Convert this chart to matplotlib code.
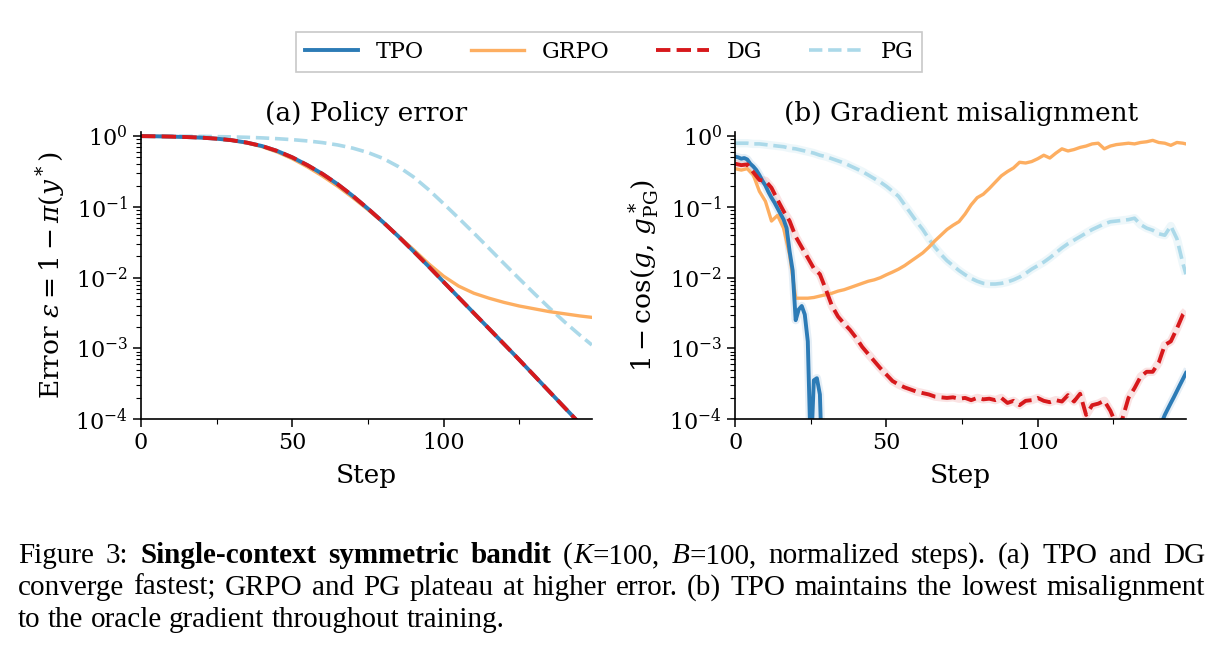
import numpy as np
import matplotlib
matplotlib.use('Agg')
import matplotlib.pyplot as plt
from matplotlib.lines import Line2D
from matplotlib.ticker import MultipleLocator

# ---- data ----
steps_a = [0, 5, 10, 15, 20, 25, 30, 35, 40, 45, 50, 55, 60, 65, 70, 75, 80, 85, 90, 95,
           100, 105, 110, 115, 120, 125, 130, 135, 140, 145, 149]

tpo_a = [1.0, 0.993, 0.984, 0.970, 0.951, 0.920, 0.875, 0.809, 0.724, 0.617,
         0.501, 0.389, 0.292, 0.209, 0.143, 0.0944, 0.0610, 0.0385, 0.0237, 0.0145,
         8.71e-3, 5.25e-3, 3.16e-3, 1.91e-3, 1.15e-3, 6.92e-4, 4.12e-4, 2.45e-4, 1.46e-4, 8.71e-5,
         5.75e-5]
dg_a = [1.0, 0.993, 0.984, 0.970, 0.951, 0.920, 0.875, 0.809, 0.724, 0.617,
        0.501, 0.389, 0.292, 0.209, 0.143, 0.0944, 0.0610, 0.0385, 0.0237, 0.0145,
        8.71e-3, 5.25e-3, 3.16e-3, 1.91e-3, 1.15e-3, 6.92e-4, 4.12e-4, 2.45e-4, 1.46e-4, 8.71e-5,
        5.75e-5]
grpo_a = [1.0, 0.993, 0.984, 0.970, 0.951, 0.918, 0.871, 0.800, 0.708, 0.596,
          0.479, 0.367, 0.272, 0.195, 0.135, 0.0912, 0.0603, 0.0389, 0.0251, 0.0158,
          0.0105, 7.59e-3, 6.03e-3, 5.13e-3, 4.47e-3, 3.98e-3, 3.63e-3, 3.31e-3, 3.09e-3, 2.88e-3,
          2.75e-3]
pg_a = [1.0, 1.0, 0.998, 0.995, 0.991, 0.984, 0.975, 0.962, 0.944, 0.920,
        0.891, 0.855, 0.809, 0.750, 0.676, 0.586, 0.484, 0.372, 0.266, 0.176,
        0.111, 0.0692, 0.0427, 0.0260, 0.0158, 9.66e-3, 5.96e-3, 3.72e-3, 2.37e-3, 1.55e-3,
        1.12e-3]

steps_b = list(range(0, 150, 2)) + [149]

grpo_b = [0.347, 0.331, 0.347, 0.282, 0.166, 0.120, 0.0631, 0.0759, 0.0501, 0.0209,
          5.13e-3, 5.13e-3, 5.13e-3, 5.25e-3, 5.50e-3, 5.75e-3, 6.03e-3, 6.46e-3, 6.76e-3, 7.24e-3,
          7.76e-3, 8.32e-3, 8.91e-3, 9.33e-3, 0.0100, 0.0110, 0.0120, 0.0132, 0.0148, 0.0170,
          0.0195, 0.0224, 0.0269, 0.0331, 0.0398, 0.0479, 0.0550, 0.0620, 0.0794, 0.107,
          0.135, 0.151, 0.182, 0.224, 0.275, 0.316, 0.355, 0.427, 0.417, 0.437,
          0.479, 0.537, 0.490, 0.575, 0.661, 0.617, 0.646, 0.692, 0.724, 0.776,
          0.794, 0.661, 0.724, 0.759, 0.776, 0.794, 0.776, 0.813, 0.832, 0.871,
          0.813, 0.794, 0.741, 0.813, 0.794, 0.776]
dg_b = [0.407, 0.389, 0.398, 0.309, 0.240, 0.234, 0.186, 0.126, 0.0871, 0.0631,
        0.0380, 0.0269, 0.0191, 0.0135, 0.0112, 6.76e-3, 3.98e-3, 2.82e-3, 2.24e-3, 1.82e-3,
        1.41e-3, 1.05e-3, 8.32e-4, 6.61e-4, 5.25e-4, 4.27e-4, 3.47e-4, 3.09e-4, 2.82e-4, 2.63e-4,
        2.45e-4, 2.34e-4, 2.24e-4, 2.09e-4, 2.04e-4, 2.00e-4, 2.04e-4, 1.95e-4, 2.00e-4, 1.86e-4,
        2.00e-4, 1.91e-4, 1.95e-4, 1.86e-4, 2.00e-4, 1.70e-4, 1.82e-4, 1.58e-4, 1.82e-4, 1.86e-4,
        2.00e-4, 1.82e-4, 1.74e-4, 1.86e-4, 1.78e-4, 2.19e-4, 1.78e-4, 2.29e-4, 1.15e-4, 1.58e-4,
        1.66e-4, 1.82e-4, 1.32e-4, 8.32e-5, 1.02e-4, 2.00e-4, 2.75e-4, 3.98e-4, 4.68e-4, 4.68e-4,
        6.31e-4, 1.12e-3, 1.26e-3, 1.91e-3, 3.02e-3, 3.39e-3]
pg_b = [0.794, 0.794, 0.794, 0.776, 0.776, 0.759, 0.741, 0.724, 0.708, 0.676,
        0.661, 0.631, 0.603, 0.575, 0.537, 0.513, 0.479, 0.447, 0.417, 0.380,
        0.347, 0.316, 0.282, 0.251, 0.224, 0.195, 0.166, 0.141, 0.107, 0.0813,
        0.0617, 0.0479, 0.0355, 0.0269, 0.0214, 0.0174, 0.0148, 0.0126, 0.0110, 9.77e-3,
        8.91e-3, 8.32e-3, 8.13e-3, 8.13e-3, 8.32e-3, 8.71e-3, 9.33e-3, 0.0102, 0.0115, 0.0132,
        0.0148, 0.0166, 0.0191, 0.0224, 0.0263, 0.0302, 0.0339, 0.0380, 0.0427, 0.0479,
        0.0525, 0.0575, 0.0617, 0.0631, 0.0646, 0.0661, 0.0692, 0.0562, 0.0501, 0.0468,
        0.0417, 0.0398, 0.0537, 0.0355, 0.0158, 0.0112]

tpo_b_steps = list(range(0, 30)) + list(range(140, 150))
tpo_b = [0.513, 0.501, 0.479, 0.490, 0.468, 0.407, 0.372, 0.331, 0.282, 0.234,
         0.200, 0.162, 0.135, 0.115, 0.0955, 0.0794, 0.0661, 0.0501, 0.0234, 0.0126,
         2.51e-3, 3.55e-3, 3.98e-3, 3.02e-3, 1.26e-3, 3e-5, 3.55e-4, 3.80e-4, 2.24e-4, 1e-5,
         1e-5, 9e-5, 1.15e-4, 1.4e-4, 1.7e-4, 2.05e-4, 2.5e-4, 3.05e-4, 3.7e-4, 4.5e-4]

c_tpo = '#2c7bb6'
c_grpo = '#fdae61'
c_dg = '#d7191c'
c_pg = '#abd9e9'

plt.rcParams['font.family'] = 'DejaVu Serif'
plt.rcParams['mathtext.fontset'] = 'dejavuserif'

fig, (ax1, ax2) = plt.subplots(1, 2, figsize=(12.18, 6.52), dpi=100)
fig.subplots_adjust(left=0.1158, right=0.9737, bottom=0.357, top=0.797, wspace=0.318)

# (a) policy error
ax1.plot(steps_a, pg_a, color=c_pg, lw=2.6, ls='--')
ax1.plot(steps_a, grpo_a, color=c_grpo, lw=2.4)
ax1.plot(steps_a, tpo_a, color=c_tpo, lw=2.8)
ax1.plot(steps_a, dg_a, color=c_dg, lw=2.8, ls='--')
ax1.set_title('(a) Policy error', fontsize=19, pad=8)
ax1.set_ylabel(r'Error $\varepsilon = 1 - \pi(y^*)$', fontsize=19, labelpad=6)

# (b) gradient misalignment, faint wide underlay stands in for the spread band
ax2.plot(steps_b, pg_b, color=c_pg, lw=6, alpha=0.2, solid_capstyle='butt')
ax2.plot(steps_b, dg_b, color=c_dg, lw=6, alpha=0.12, solid_capstyle='butt')
ax2.plot(tpo_b_steps, tpo_b, color=c_tpo, lw=6, alpha=0.12)
ax2.plot(steps_b, pg_b, color=c_pg, lw=2.6, ls='--')
ax2.plot(steps_b, grpo_b, color=c_grpo, lw=2.4)
ax2.plot(tpo_b_steps, tpo_b, color=c_tpo, lw=2.8)
ax2.plot(steps_b, dg_b, color=c_dg, lw=2.8, ls='--')
ax2.set_title('(b) Gradient misalignment', fontsize=19, pad=8)
ax2.set_ylabel(r'$1 - \cos(g,\, g^*_{\mathrm{PG}})$', fontsize=19, labelpad=6)

for ax in (ax1, ax2):
    ax.set_yscale('log')
    ax.set_ylim(1e-4, 1.13)
    ax.set_xlim(0, 149)
    ax.set_xticks([0, 50, 100])
    ax.xaxis.set_minor_locator(MultipleLocator(25))
    ax.set_xlabel('Step', fontsize=19, labelpad=6)
    ax.spines['top'].set_visible(False)
    ax.spines['right'].set_visible(False)
    ax.spines['left'].set_linewidth(1.2)
    ax.spines['bottom'].set_linewidth(1.2)
    ax.tick_params(which='major', labelsize=16, length=6, width=1.1)
    ax.tick_params(which='minor', length=3.5, width=0.8)

handles = [Line2D([], [], color=c_tpo, lw=2.8),
           Line2D([], [], color=c_grpo, lw=2.4),
           Line2D([], [], color=c_dg, lw=2.8, ls='--'),
           Line2D([], [], color=c_pg, lw=2.6, ls='--')]
leg = fig.legend(handles, ['TPO', 'GRPO', 'DG', 'PG'], loc='upper center',
                 bbox_to_anchor=(0.5, 0.968), ncol=4, fontsize=16, frameon=True,
                 fancybox=False, edgecolor='#bbbbbb', handlelength=2.4,
                 columnspacing=2.1, borderpad=0.4)
leg.get_frame().set_linewidth(1.2)

# caption, placed word by word so lines 1-2 are justified like the paper
fig.canvas.draw()
renderer = fig.canvas.get_renderer()
cap_font = 'Liberation Serif'
cap_size = 21
left_px, right_px = 18, 1205


def run_width(s, kw):
    t = fig.text(0, 0, s, family=cap_font, fontsize=cap_size, **kw)
    w = t.get_window_extent(renderer).width
    t.remove()
    return w


def put_line(y_px, words, justify=True):
    widths = [sum(run_width(s, kw) for s, kw in w) for w in words]
    space = run_width('a a', {}) - run_width('aa', {})
    if justify:
        gap = (right_px - left_px - sum(widths)) / (len(words) - 1)
    else:
        gap = space
    x = left_px
    y = 1 - y_px / 652
    for w in words:
        for s, kw in w:
            t = fig.text(x / 1218, y, s, family=cap_font, fontsize=cap_size,
                         va='baseline', **kw)
            x += t.get_window_extent(renderer).width
        x += gap


n = {}
b = {'weight': 'bold'}
it = {'style': 'italic'}
line1 = [[('Figure', n)], [('3:', n)], [('Single-context', b)], [('symmetric', b)],
         [('bandit', b)], [('(', n), ('K', it), ('=100,', n)], [('B', it), ('=100,', n)],
         [('normalized', n)], [('steps).', n)], [('(a)', n)], [('TPO', n)], [('and', n)],
         [('DG', n)]]
line2 = [[(w, n)] for w in 'converge fastest; GRPO and PG plateau at higher error. (b) TPO maintains the lowest misalignment'.split()]
line3 = [[(w, n)] for w in 'to the oracle gradient throughout training.'.split()]
put_line(563, line1)
put_line(595, line2)
put_line(627, line3, justify=False)

plt.savefig('out.png', dpi=100)
